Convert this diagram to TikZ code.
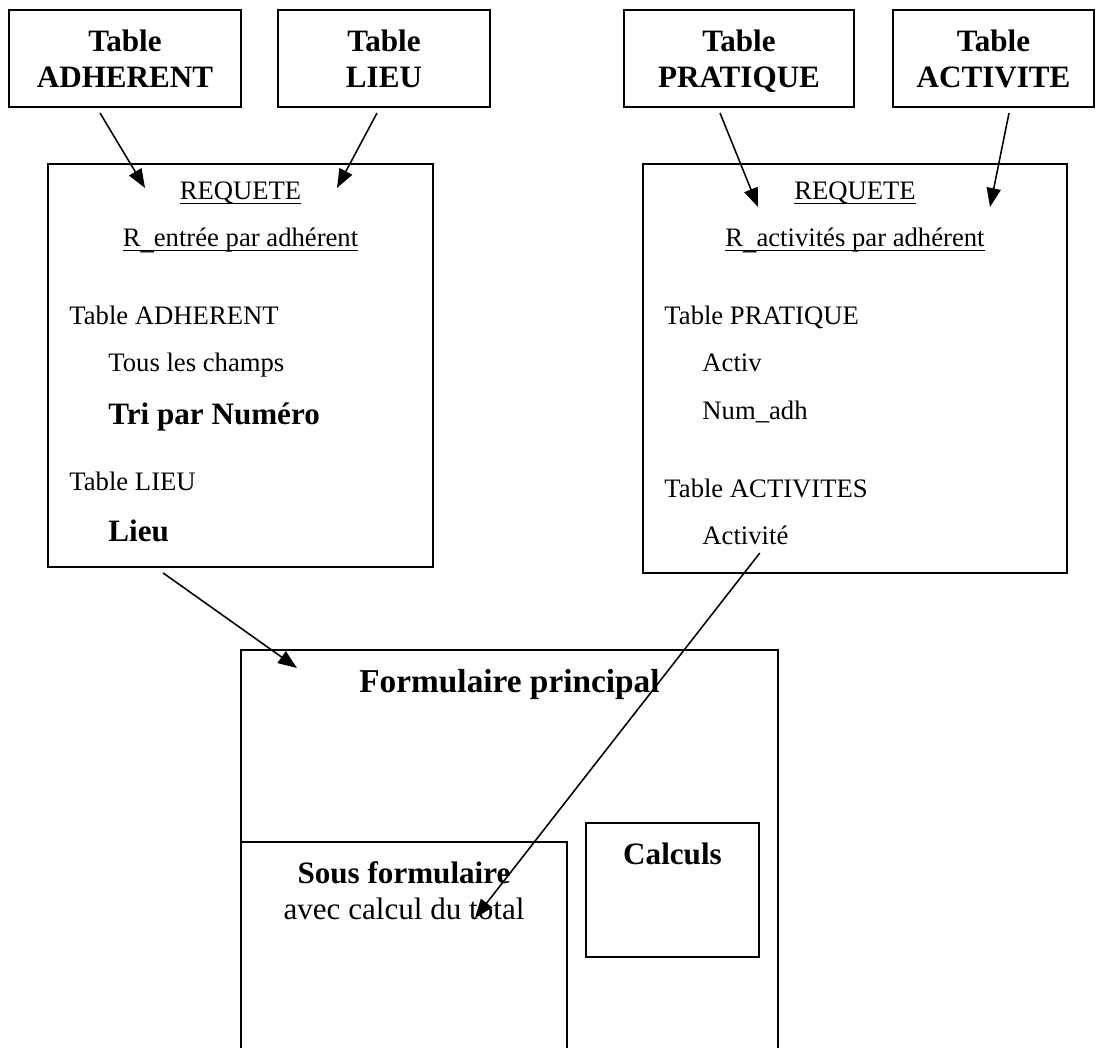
\documentclass[tikz,border=0pt]{standalone}
\usepackage{fontspec}
\setmainfont{Liberation Serif}
\usetikzlibrary{arrows.meta}

\tikzset{
    tblbox/.style={draw, line width=0.9pt, align=center, inner sep=0pt, text depth=0pt,
        font=\fontsize{14}{16.2}\selectfont\bfseries},
    frame/.style={draw, line width=0.8pt, inner sep=0pt},
    txt/.style={anchor=base west, inner sep=0pt, font=\fontsize{12}{14}\selectfont},
    btxt/.style={anchor=base west, inner sep=0pt, font=\fontsize{14}{16}\selectfont\bfseries},
    ctxt/.style={anchor=base, inner sep=0pt, font=\fontsize{12}{14}\selectfont},
    bctxt/.style={anchor=base, inner sep=0pt, font=\fontsize{14}{16}\selectfont\bfseries},
    arr/.style={-{Triangle[length=8.5pt,width=6.4pt]}, line width=0.7pt},
}
\newcommand{\ulin}[1]{\underline{\smash{#1}}}
\newcommand{\usc}{\raisebox{-1pt}{\_}}

\begin{document}
\begin{tikzpicture}[x=0.45pt, y=-0.45pt]
        \useasboundingbox (0,0) rectangle (1096,1048);
        \clip (0,0) rectangle (1096,1048);

        % Tables
        \node [tblbox, minimum width=232*0.45pt, minimum height=97*0.45pt] (adherent) at (125,58.5) {Table\\ADHERENT};
        \node [tblbox, minimum width=212*0.45pt, minimum height=97*0.45pt] (lieu) at (384,58.5) {Table\\LIEU};
        \node [tblbox, minimum width=230*0.45pt, minimum height=97*0.45pt] (pratique) at (739,58.5) {Table\\PRATIQUE};
        \node [tblbox, minimum width=201*0.45pt, minimum height=97*0.45pt] (activite) at (993.5,58.5) {Table\\ACTIVITE};

        % Requete R_entree par adherent
        \node [frame, minimum width=385*0.45pt, minimum height=403*0.45pt] (reqA) at (240.5,365.5) {};
        \node [ctxt] (reqAtitle) at (240.5,200) {\ulin{REQUETE}};
        \node [ctxt] (reqAname) at (240.5,247) {\ulin{R\usc entrée par adhérent}};
        \node [txt] (adhT) at (69,325) {Table ADHERENT};
        \node [txt] (adhF) at (108,372) {Tous les champs};
        \node [btxt] (adhTri) at (108,425) {Tri par Numéro};
        \node [txt] (lieuT) at (69,490) {Table LIEU};
        \node [btxt] (lieuF) at (108,542) {Lieu};

        % Requete R_activites par adherent
        \node [frame, minimum width=424*0.45pt, minimum height=409*0.45pt] (reqB) at (855,368.5) {};
        \node [ctxt] (reqBtitle) at (855,200) {\ulin{REQUETE}};
        \node [ctxt] (reqBname) at (855,247) {\ulin{R\usc activités par adhérent}};
        \node [txt] (praT) at (664,325) {Table PRATIQUE};
        \node [txt] (praF1) at (702,372) {Activ};
        \node [txt] (praF2) at (702,420) {Num\_adh};
        \node [txt] (actT) at (664,498) {Table ACTIVITES};
        \node [txt] (actF) at (702,545) {Activité};

        % Formulaires
        \node [frame, minimum width=537*0.45pt, minimum height=410*0.45pt] (formP) at (509.5,855) {};
        \node [bctxt, font=\fontsize{15}{17}\selectfont\bfseries] (formPtitle) at (509.5,692) {Formulaire principal};
        \node [frame, minimum width=326*0.45pt, minimum height=218*0.45pt] (sousF) at (404,951) {};
        \node [bctxt] (sousFtitle) at (404,883) {Sous formulaire};
        \node [ctxt, font=\fontsize{14}{16}\selectfont] (sousFtext) at (404,919) {avec calcul du total};
        \node [frame, minimum width=173*0.45pt, minimum height=134*0.45pt] (calc) at (672.5,890) {};
        \node [bctxt] (calcTitle) at (672.5,864) {Calculs};

        % Liens
        \coordinate (tipAdh) at (145,188);
        \coordinate (tipLieu) at (337,188);
        \coordinate (tipPra) at (758,207);
        \coordinate (tipAct) at (990,207);
        \coordinate (tipForm) at (297,668);
        \coordinate (tipSous) at (475,918);
        \draw [arr] ([shift={(-25,5)}]adherent.south) -- (tipAdh);
        \draw [arr] ([shift={(-7,5)}]lieu.south) -- (tipLieu);
        \draw [arr] ([shift={(-19,5)}]pratique.south) -- (tipPra);
        \draw [arr] ([shift={(15.5,5)}]activite.south) -- (tipAct);
        \draw [arr] ([shift={(-77.5,5)}]reqA.south) -- (tipForm);
        \draw [arr] ([shift={(-29,8)}]actF.base east) -- (tipSous);
\end{tikzpicture}
\end{document}
